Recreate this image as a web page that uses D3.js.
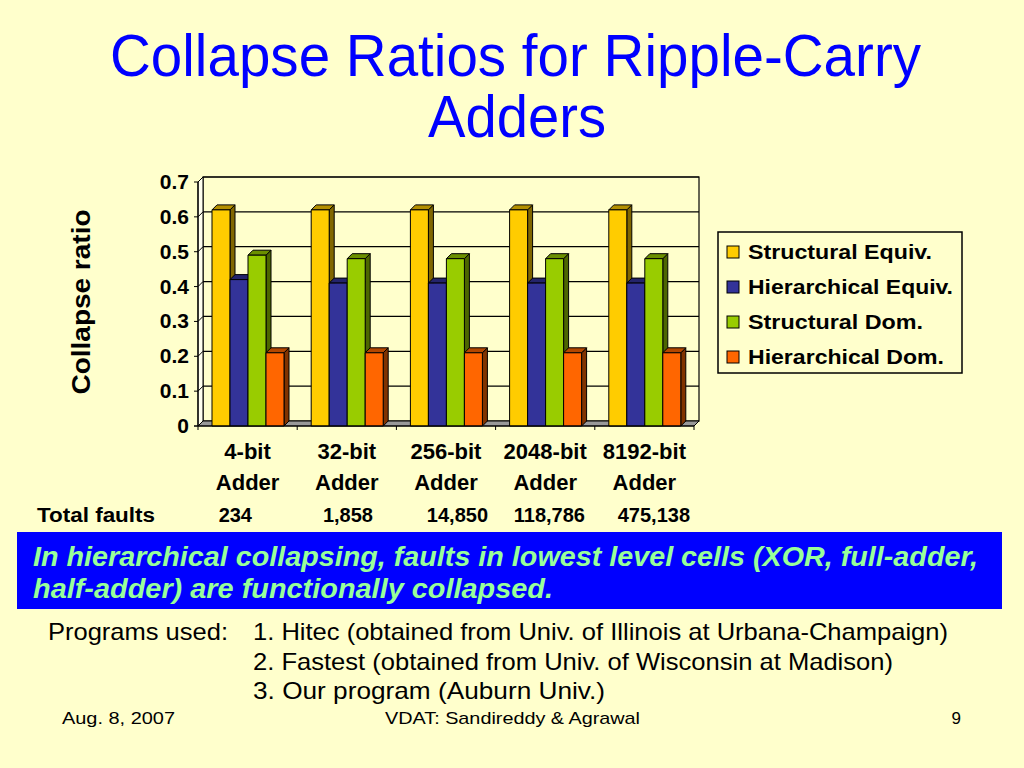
<!DOCTYPE html>
<html>
<head>
<meta charset="utf-8">
<script src="https://cdn.jsdelivr.net/npm/d3@7"></script>
<style>
  html, body { margin: 0; padding: 0; background: #FFFFCC; }
  svg { display: block; }
  text { font-family: Arial, "Liberation Sans", Helvetica, sans-serif; }
</style>
</head>
<body>
<svg id="svg"></svg>
<script>
// chart data
let categories = ["4-bit Adder", "32-bit Adder", "256-bit Adder", "2048-bit Adder", "8192-bit Adder"];
let seriesNames = ["Structural Equiv.", "Hierarchical Equiv.", "Structural Dom.", "Hierarchical Dom."];
let structEquiv = [0.62, 0.62, 0.62, 0.62, 0.62];
let hierEquiv = [0.42, 0.41, 0.41, 0.41, 0.41];
let structDom = [0.49, 0.48, 0.48, 0.48, 0.48];
let hierDom = [0.21, 0.21, 0.21, 0.21, 0.21];
let totalFaults = ["234", "1,858", "14,850", "118,786", "475,138"];
let yTicks = [0, 0.1, 0.2, 0.3, 0.4, 0.5, 0.6, 0.7];

let width = 1024, height = 768;
let font = "Arial, 'Liberation Sans', Helvetica, sans-serif";
let svg = d3.select("#svg").attr("width", width).attr("height", height);

svg.append("rect").attr("width", width).attr("height", height).attr("fill", "#FFFFCC");

// helper for text; len squeezes the glyphs to the measured width
function txt(x, y, s, size, opts) {
    opts = opts || {};
    let t = svg.append("text")
        .attr("x", x).attr("y", y)
        .attr("font-family", font)
        .attr("font-size", size)
        .attr("font-weight", opts.weight || "normal")
        .attr("font-style", opts.style || "normal")
        .attr("fill", opts.fill || "#000")
        .attr("text-anchor", opts.anchor || "start")
        .text(s);
    if (opts.len) t.attr("textLength", opts.len).attr("lengthAdjust", "spacingAndGlyphs");
    return t;
}

// title
txt(110, 76, "Collapse Ratios for Ripple-Carry", 60, {fill: "#0000FF", len: 811});
txt(428, 137, "Adders", 60, {fill: "#0000FF", len: 178});

// 3d plot geometry
let dx = 5, dy = 5;
let frontLeft = 198, frontRight = 694, frontBottom = 426;
let backTop = 177;

let x = d3.scaleBand().domain(categories).range([frontLeft, frontRight]);
let y = d3.scaleLinear().domain([0, 0.7]).range([frontBottom - dy, backTop]);

let colors = ["#FFCC00", "#333399", "#99CC00", "#FF6600"];
let sideColors = ["#806600", "#1a1a4d", "#4d6600", "#803300"];
let topColors = ["#b38f00", "#24246b", "#6b8f00", "#b34700"];

let plot = svg.append("g");

// back wall
plot.append("rect")
    .attr("x", frontLeft + dx).attr("y", backTop)
    .attr("width", frontRight - frontLeft).attr("height", y(0) - backTop)
    .attr("fill", "#FFFFCC").attr("stroke", "#000").attr("stroke-width", 1.2);

// left wall
plot.append("path")
    .attr("d", `M${frontLeft},${frontBottom}L${frontLeft},${backTop + dy}L${frontLeft + dx},${backTop}L${frontLeft + dx},${y(0)}Z`)
    .attr("fill", "#FFFFEE").attr("stroke", "#000").attr("stroke-width", 1);

// floor
plot.append("path")
    .attr("d", `M${frontLeft},${frontBottom}L${frontLeft + dx},${y(0)}L${frontRight + dx},${y(0)}L${frontRight},${frontBottom}Z`)
    .attr("fill", "#999999").attr("stroke", "#000").attr("stroke-width", 1);

// gridlines on back and side wall
yTicks.forEach(function(t) {
    if (t > 0) {
        plot.append("line")
            .attr("x1", frontLeft + dx).attr("x2", frontRight + dx)
            .attr("y1", y(t)).attr("y2", y(t))
            .attr("stroke", "#000").attr("stroke-width", 1.2);
    }
    plot.append("line")
        .attr("x1", frontLeft).attr("y1", y(t) + dy)
        .attr("x2", frontLeft + dx).attr("y2", y(t))
        .attr("stroke", "#000").attr("stroke-width", 1);
    plot.append("line")
        .attr("x1", frontLeft - 4).attr("x2", frontLeft)
        .attr("y1", y(t) + dy).attr("y2", y(t) + dy)
        .attr("stroke", "#000").attr("stroke-width", 1);
    txt(189, y(t) + dy + 7, String(t), 21, {weight: "bold", anchor: "end"});
});

// bars
let seriesValues = [structEquiv, hierEquiv, structDom, hierDom];
let barW = 18, barOffset = 14;
categories.forEach(function(c, ci) {
    seriesValues.forEach(function(vals, si) {
        let x0 = x(c) + barOffset + si * barW;
        let x1 = x0 + barW;
        let top = y(vals[ci]) + dy;
        let g = plot.append("g").attr("stroke", "#000").attr("stroke-width", 1).attr("stroke-linejoin", "round");
        g.append("path")
            .attr("d", `M${x1},${top}L${x1 + dx},${top - dy}L${x1 + dx},${y(0)}L${x1},${frontBottom}Z`)
            .attr("fill", sideColors[si]);
        g.append("path")
            .attr("d", `M${x0},${top}L${x0 + dx},${top - dy}L${x1 + dx},${top - dy}L${x1},${top}Z`)
            .attr("fill", topColors[si]);
        g.append("rect")
            .attr("x", x0).attr("y", top)
            .attr("width", barW).attr("height", frontBottom - top)
            .attr("fill", colors[si]);
    });
});

// front axes
plot.append("line")
    .attr("x1", frontLeft).attr("x2", frontLeft)
    .attr("y1", backTop + dy).attr("y2", frontBottom)
    .attr("stroke", "#000").attr("stroke-width", 1.2);
plot.append("line")
    .attr("x1", frontLeft - 4).attr("x2", frontRight)
    .attr("y1", frontBottom).attr("y2", frontBottom)
    .attr("stroke", "#000").attr("stroke-width", 1.2);
categories.concat([null]).forEach(function(c) {
    let xx = c ? x(c) : frontRight;
    plot.append("line")
        .attr("x1", xx).attr("x2", xx)
        .attr("y1", frontBottom).attr("y2", frontBottom + 4)
        .attr("stroke", "#000").attr("stroke-width", 1);
});

// category labels
categories.forEach(function(c) {
    let parts = c.split(" ");
    let cx = x(c) + x.bandwidth() / 2;
    txt(cx, 459, parts[0], 22, {weight: "bold", anchor: "middle"});
    txt(cx, 490, parts[1], 22, {weight: "bold", anchor: "middle"});
});

// y axis title
svg.append("text")
    .attr("transform", "translate(90,302) rotate(-90)")
    .attr("text-anchor", "middle")
    .attr("font-family", font)
    .attr("font-size", 25).attr("font-weight", "bold")
    .attr("textLength", 185).attr("lengthAdjust", "spacingAndGlyphs")
    .text("Collapse ratio");

// legend
let lg = svg.append("g");
lg.append("rect").attr("x", 718).attr("y", 232).attr("width", 244).attr("height", 141)
    .attr("fill", "#FFFFCC").attr("stroke", "#000").attr("stroke-width", 1.5);
let legendLens = [184, 205, 175, 196];
seriesNames.forEach(function(s, i) {
    let yy = 252 + i * 35;
    lg.append("rect").attr("x", 727).attr("y", yy - 6).attr("width", 12).attr("height", 12)
        .attr("fill", colors[i]).attr("stroke", "#000").attr("stroke-width", 1);
    txt(748, yy + 7, s, 21, {weight: "bold", len: legendLens[i]});
});

// total faults row
txt(37, 522, "Total faults", 20, {weight: "bold", len: 118});
let faultRight = [252, 373, 488, 585, 690];
totalFaults.forEach(function(f, i) {
    txt(faultRight[i], 522, f, 20, {weight: "bold", anchor: "end"});
});

// note box
svg.append("rect").attr("x", 17).attr("y", 532).attr("width", 985).attr("height", 77).attr("fill", "#0000FF");
txt(33, 566, "In hierarchical collapsing, faults in lowest level cells (XOR, full-adder,", 27,
    {weight: "bold", style: "italic", fill: "#99FF99", len: 945});
txt(33, 598, "half-adder) are functionally collapsed.", 27,
    {weight: "bold", style: "italic", fill: "#99FF99", len: 520});

// programs
txt(48, 640, "Programs used:", 24, {len: 180});
txt(253, 640, "1. Hitec (obtained from Univ. of Illinois at Urbana-Champaign)", 24, {len: 695});
txt(253, 670, "2. Fastest (obtained from Univ. of Wisconsin at Madison)", 24, {len: 640});
txt(253, 699, "3. Our program (Auburn Univ.)", 24, {len: 352});

// footer
txt(62, 724, "Aug. 8, 2007", 17, {len: 113});
txt(385, 724, "VDAT: Sandireddy & Agrawal", 17, {len: 255});
txt(961, 724, "9", 17, {anchor: "end"});
</script>
</body>
</html>
